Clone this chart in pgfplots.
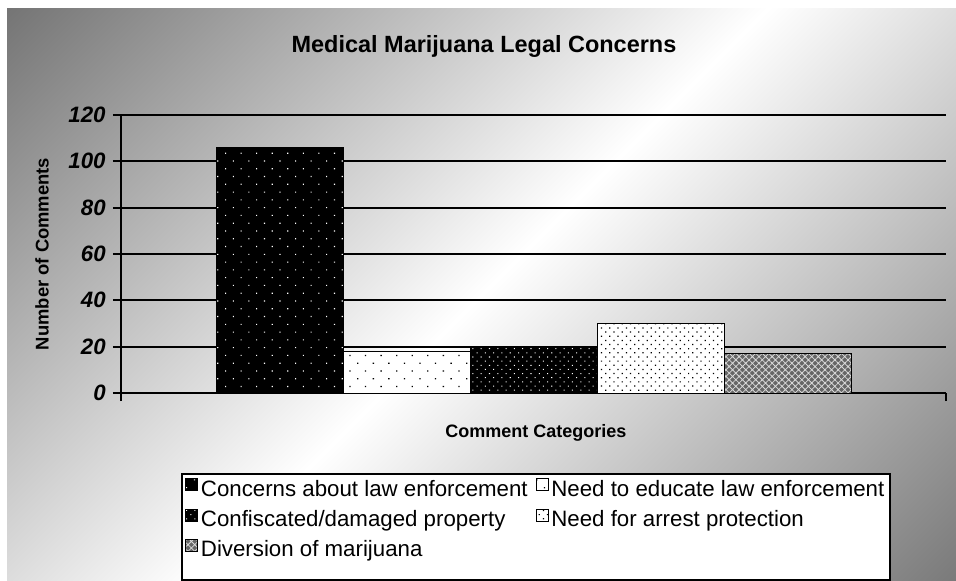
\documentclass[border=0pt]{standalone}
\usepackage{fontspec}
\setmainfont{Liberation Sans}
\usepackage{pgfplots}
\pgfplotsset{compat=1.18}
\usetikzlibrary{patterns.meta}
\pgfdeclarehorizontalshading{bgshade}{100bp}{color(0bp)=(black!54); color(14.6bp)=(black!54); color(50bp)=(white); color(85.4bp)=(black!52); color(100bp)=(black!52)}
\begin{document}
\begin{tikzpicture}[x=0.75bp,y=0.75bp]
\useasboundingbox (0,0) rectangle (956,581);
\shade[shading=bgshade, shading angle=-45] (7,0) rectangle (956,572);
\node[font=\fontsize{17.6bp}{20bp}\selectfont\bfseries, anchor=base] at (484,528) {Medical Marijuana Legal Concerns};
\node[font=\fontsize{13.8bp}{16bp}\selectfont\bfseries, rotate=90] at (42,327) {Number of Comments};
\node[font=\fontsize{13.5bp}{16bp}\selectfont\bfseries] at (536,148) {Comment Categories};
\begin{axis}[
  at={(90.75bp,141bp)}, anchor=south west,
  scale only axis, width=618.75bp, height=208.5bp,
  xmin=-1, xmax=1, ymin=0, ymax=120,
  ytick={0,20,...,120}, xtick={-1,1}, xticklabels={},
  ybar=0pt, bar width=95.25bp,
  ymajorgrids, grid style={black, line width=1.5bp},
  axis lines*=left, axis line style={black, line width=1.5bp},
  tick style={black, line width=1.5bp}, tick align=outside, major tick length=6bp,
  /pgf/number format/assume math mode=true,
  yticklabel style={font=\fontsize{16.7bp}{18bp}\selectfont\bfseries\itshape, xshift=-2bp},
  legend columns=2, legend cell align=left,
  legend image code/.code={\draw[#1] (0bp,-1.2bp) rectangle (9bp,7.8bp);},
  legend style={at={(axis description cs:0.0727,-0.2878)}, anchor=north west,
    draw=black, line width=1.5bp, fill=white,
    font=\fontsize{16.7bp}{20bp}\selectfont, inner sep=2.5bp, row sep=5.2bp,
    /tikz/every even column/.append style={column sep=4bp}},
]
\addplot[draw=black, line width=0.75bp, fill=black, postaction={pattern={Dots[angle=45,distance=8.25bp,radius=0.6bp]}, pattern color=white}] coordinates {(0,106)};
\addlegendentry{Concerns about law enforcement}
\addplot[draw=black, line width=0.75bp, fill=white, postaction={pattern={Dots[angle=45,distance=8.25bp,radius=0.7bp]}, pattern color=black}] coordinates {(0,18)};
\addlegendentry{Need to educate law enforcement}
\addplot[draw=black, line width=0.75bp, fill=black, postaction={pattern={Dots[angle=45,distance=4.4bp,radius=0.55bp]}, pattern color=white}] coordinates {(0,20)};
\addlegendentry{Confiscated/damaged property}
\addplot[draw=black, line width=0.75bp, fill=white, postaction={pattern={Dots[angle=45,distance=4.4bp,radius=0.65bp]}, pattern color=black}] coordinates {(0,30)};
\addlegendentry{Need for arrest protection}
\addplot[draw=black, line width=0.75bp, fill=black!60, postaction={pattern={Hatch[angle=45,distance=3.5bp,line width=0.6bp]}, pattern color=white!85!black}] coordinates {(0,17)};
\addlegendentry{Diversion of marijuana}
\addlegendimage{empty legend}
\addlegendentry{}
\addlegendimage{empty legend}
\addlegendentry[font=\fontsize{2bp}{2bp}\selectfont]{\rule{0pt}{1bp}}
\end{axis}
\end{tikzpicture}
\end{document}
